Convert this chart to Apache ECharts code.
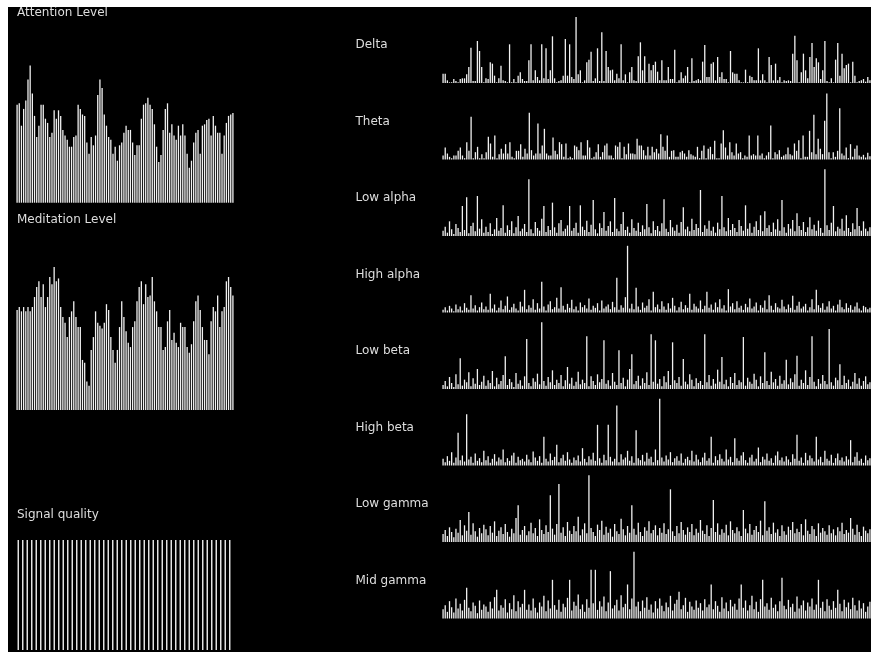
<!DOCTYPE html>
<html>
<head>
<meta charset="utf-8">
<script src="https://cdn.jsdelivr.net/npm/echarts@6/dist/echarts.min.js"></script>
<style>
  html, body { margin: 0; padding: 0; background: #fff; }
  #main { position: absolute; left: 8px; top: 7px; width: 863px; height: 645px; background: #000; }
</style>
</head>
<body>
<div id="main"></div>
<script>
// eSense levels (0-100)
var attention = [
  70, 71, 55, 67, 73, 88, 98, 78, 62, 47, 55, 70, 70, 60, 57, 47, 50, 66, 60, 66,
  62, 52, 48, 45, 40, 40, 47, 48, 70, 67, 63, 62, 43, 35, 47, 41, 48, 77, 88, 82,
  63, 55, 47, 45, 35, 40, 30, 41, 43, 50, 55, 52, 52, 43, 34, 41, 41, 60, 70, 71,
  75, 70, 67, 56, 40, 29, 34, 52, 67, 71, 50, 56, 48, 45, 55, 48, 56, 48, 35, 25,
  30, 43, 50, 52, 35, 55, 56, 59, 60, 48, 62, 55, 50, 50, 35, 48, 57, 62, 63, 64
];
var meditation = [
  70, 72, 69, 72, 69, 72, 69, 72, 79, 86, 90, 79, 88, 72, 79, 93, 88, 100, 90, 92,
  72, 65, 61, 51, 65, 69, 76, 65, 58, 58, 35, 33, 20, 17, 42, 51, 69, 61, 59, 57,
  61, 74, 70, 51, 42, 33, 42, 58, 76, 65, 55, 47, 44, 58, 62, 76, 86, 90, 74, 88,
  79, 80, 93, 76, 69, 58, 58, 42, 44, 62, 70, 49, 54, 47, 44, 61, 58, 58, 44, 40,
  46, 62, 76, 80, 70, 58, 49, 49, 39, 62, 72, 69, 80, 58, 69, 72, 90, 93, 86, 80
];
// poor signal value, 200 = max
var signalQuality = [
  200, 200, 200, 200, 200, 200, 200, 200, 200, 200, 200, 200, 200, 200, 200, 200,
  200, 200, 200, 200, 200, 200, 200, 200, 200, 200, 200, 200, 200, 200, 200, 200,
  200, 200, 200, 200, 200, 200, 200, 200, 200, 200, 200, 200, 200, 200, 200, 200
];

// band powers, relative to each band's peak (0-100)
var bandNames = ['Delta', 'Theta', 'Low alpha', 'High alpha', 'Low beta', 'High beta', 'Low gamma', 'Mid gamma'];
var delta = [
  14, 14, 4, 1, 1, 6, 3, 1, 6, 7, 7, 13, 24, 53, 3, 3, 63, 48, 24, 1,
  7, 6, 31, 29, 11, 1, 7, 26, 4, 3, 1, 58, 1, 6, 1, 11, 16, 6, 3, 3,
  34, 58, 4, 19, 9, 4, 58, 7, 52, 6, 19, 70, 7, 1, 3, 4, 11, 66, 11, 58,
  9, 6, 99, 13, 19, 1, 4, 31, 35, 47, 3, 7, 52, 3, 76, 3, 48,
  24, 19, 20, 4, 14, 7, 58, 4, 13, 1, 16, 24, 4, 3, 40, 61, 19, 40, 1, 29,
  19, 27, 32, 17, 4, 34, 4, 4, 24, 6, 6, 50, 1, 4, 16, 7, 11, 24, 1, 37,
  3, 4, 6, 4, 32, 57, 9, 9, 29, 31, 4, 39, 9, 16, 6, 6, 1, 48, 16, 14,
  14, 4, 1, 1, 20, 1, 11, 9, 4, 4, 52, 4, 13, 4, 1, 39, 27, 4, 29, 4,
  9, 1, 4, 3, 4, 3, 44, 71, 34, 1, 16, 44, 19, 7, 39, 60, 24, 37, 31, 6,
  19, 63, 3, 1, 7, 1, 35, 60, 11, 44, 22, 27, 29, 1, 32, 11, 1, 3, 4,
  6, 2, 9, 4
];
var theta = [
  6, 18, 9, 4, 2, 6, 6, 13, 18, 6, 2, 26, 13, 64, 2, 11, 19, 2, 8, 2,
  11, 34, 24, 4, 36, 2, 8, 16, 9, 23, 9, 26, 4, 2, 13, 13, 23, 4, 16, 9,
  70, 14, 6, 9, 54, 9, 21, 46, 9, 6, 6, 33, 13, 8, 26, 23, 4, 24, 2, 4,
  2, 21, 19, 14, 26, 6, 6, 29, 18, 2, 4, 11, 23, 4, 11, 21, 24, 6, 6, 2,
  21, 19, 26, 2, 19, 8, 24, 9, 9, 8, 31, 21, 21, 14,
  6, 19, 6, 19, 11, 16, 9, 38, 19, 13, 36, 4, 13, 14, 4, 4, 11, 13, 9, 4,
  14, 8, 6, 4, 19, 2, 13, 21, 2, 16, 19, 8, 28, 2, 2, 24, 44, 18, 6, 26,
  11, 6, 24, 9, 11, 2, 6, 4, 36, 6, 8, 6, 36, 6, 9, 2, 6, 11, 51, 2,
  11, 8, 14, 4, 6, 8, 18, 8, 6, 24, 13, 29, 2, 36, 4, 4, 43, 11, 67, 8,
  31, 16, 8, 58, 99, 11, 2, 11, 4, 13, 77, 9, 6, 18, 2, 23, 4, 16, 21, 6,
  4, 7, 3, 10, 5
];
var lowAlpha = [
  8, 14, 5, 22, 10, 3, 18, 12, 6, 45, 9, 58, 4, 15, 20, 7, 60, 11, 25, 5,
  14, 6, 19, 3, 10, 27, 8, 12, 46, 5, 16, 9, 22, 4, 13, 30, 7, 11, 18, 6,
  85, 10, 4, 21, 12, 8, 26, 45, 6, 15, 9, 50, 13, 5, 19, 24, 7, 11, 16, 45,
  8, 12, 20, 5, 46, 14, 9, 23, 6, 17, 54, 10, 4, 19, 12, 36, 8, 15, 22, 6,
  57, 11, 7, 18, 36, 9, 14, 5, 25, 12, 8, 20, 6, 16, 10, 48, 13, 4, 22, 9,
  15, 7, 19, 55, 11, 6, 24, 13, 8, 17, 5, 21, 43, 10, 14, 7, 26, 9, 18, 12,
  69, 6, 16, 11, 23, 8, 14, 5, 20, 10, 60, 13, 7, 27, 9, 18, 12, 6, 24, 15,
  8, 46, 11, 19, 5, 14, 22, 9, 31, 7, 37, 12, 16, 6, 20, 10, 25, 8, 54, 13,
  5, 18, 11, 24, 7, 34, 15, 9, 21, 6, 13, 28, 10, 17, 8, 23, 12, 5, 100, 16,
  9, 20, 45, 7, 14, 11, 26, 8, 31, 12, 6, 19, 10, 42, 15, 8, 22, 11, 7, 13
];
var highAlpha = [
  4, 8, 3, 10, 6, 2, 12, 5, 9, 3, 14, 7, 4, 26, 6, 11, 3, 8, 15, 5,
  9, 4, 28, 6, 12, 3, 7, 18, 5, 10, 24, 4, 8, 13, 6, 3, 16, 9, 34, 5,
  11, 7, 20, 4, 14, 6, 46, 9, 3, 12, 17, 5, 8, 22, 6, 38, 10, 4, 13, 7,
  19, 5, 9, 3, 15, 8, 11, 6, 21, 4, 10, 7, 14, 3, 18, 6, 9, 12, 5, 16,
  8, 52, 4, 11, 7, 23, 100, 6, 13, 5, 37, 9, 4, 15, 7, 10, 20, 3, 31, 8,
  12, 5, 17, 9, 4, 14, 6, 22, 10, 3, 8, 16, 5, 11, 7, 28, 4, 13, 9, 6,
  18, 5, 10, 31, 7, 12, 4, 15, 8, 20, 6, 11, 3, 35, 9, 14, 5, 17, 7, 10,
  4, 13, 8, 21, 6, 9, 15, 3, 11, 7, 18, 5, 26, 10, 4, 14, 8, 6, 19, 9,
  5, 12, 7, 25, 4, 10, 16, 6, 9, 13, 3, 8, 20, 5, 34, 11, 7, 14, 4, 9,
  17, 6, 10, 3, 12, 19, 8, 5, 14, 7, 11, 4, 9, 15, 6, 3, 10, 8, 5, 7
];
var lowBeta = [
  6, 12, 4, 18, 9, 3, 22, 7, 46, 5, 14, 10, 25, 4, 16, 8, 30, 6, 11, 20,
  5, 13, 9, 27, 4, 17, 7, 12, 21, 49, 6, 15, 10, 3, 24, 8, 13, 5, 19, 75,
  9, 4, 16, 11, 23, 7, 100, 12, 5, 18, 10, 28, 6, 14, 9, 21, 4, 13, 33, 8,
  17, 5, 11, 26, 7, 14, 9, 79, 4, 19, 12, 6, 22, 10, 15, 73, 8, 13, 5, 24,
  11, 6, 58, 9, 17, 4, 14, 30, 52, 7, 12, 20, 5, 16, 9, 25, 6, 82, 11, 73,
  8, 15, 4, 19, 10, 27, 6, 70, 13, 9, 18, 5, 45, 11, 7, 22, 14, 4, 16, 9,
  12, 6, 82, 10, 21, 5, 15, 8, 29, 11, 48, 7, 14, 4, 18, 9, 24, 6, 13, 10,
  78, 5, 17, 11, 8, 23, 14, 4, 19, 9, 55, 12, 6, 26, 10, 15, 5, 20, 8, 13,
  44, 7, 16, 10, 22, 50, 5, 14, 9, 28, 6, 18, 79, 11, 4, 15, 8, 21, 12, 7,
  90, 10, 5, 17, 13, 37, 6, 20, 9, 14, 4, 11, 24, 8, 16, 5, 12, 19, 7, 10
];
var highBeta = [
  10, 5, 14, 7, 20, 4, 12, 49, 8, 15, 6, 77, 9, 13, 4, 18, 7, 11, 5, 22,
  8, 14, 4, 10, 17, 6, 12, 9, 24, 5, 11, 7, 15, 19, 4, 13, 8, 10, 6, 16,
  9, 5, 21, 12, 7, 14, 4, 43, 10, 6, 18, 8, 13, 31, 5, 11, 16, 7, 20, 9,
  4, 12, 8, 15, 6, 26, 10, 5, 14, 9, 19, 7, 61, 11, 4, 16, 8, 61, 13, 6,
  10, 90, 5, 17, 9, 12, 22, 7, 14, 4, 53, 11, 8, 16, 6, 19, 10, 13, 5, 24,
  8, 100, 12, 6, 15, 9, 20, 5, 11, 14, 7, 18, 4, 10, 13, 8, 22, 6, 16, 9,
  5, 12, 19, 7, 11, 43, 4, 14, 8, 17, 10, 6, 24, 9, 13, 5, 41, 11, 7, 15,
  20, 8, 4, 12, 16, 6, 10, 27, 5, 13, 9, 18, 7, 11, 4, 15, 21, 8, 12, 6,
  14, 9, 5, 17, 10, 46, 7, 12, 4, 19, 8, 15, 11, 6, 43, 9, 13, 5, 22, 10,
  7, 16, 4, 11, 18, 8, 12, 6, 14, 9, 38, 5, 13, 20, 7, 10, 4, 15, 8, 11
];
var lowGamma = [
  12, 18, 9, 22, 15, 7, 20, 14, 33, 10, 25, 17, 45, 11, 28, 16, 8, 21, 13, 26,
  19, 10, 24, 14, 31, 9, 17, 22, 12, 27, 15, 8, 20, 13, 36, 55, 11, 18, 24, 10,
  16, 29, 13, 21, 9, 34, 18, 12, 25, 15, 70, 20, 11, 27, 87, 14, 22, 9, 30, 17,
  12, 24, 16, 38, 10, 19, 28, 13, 100, 21, 15, 9, 26, 18, 32, 11, 23, 14, 20, 8,
  27, 16, 12, 35, 19, 10, 24, 14, 55, 20, 11, 29, 15, 9, 22, 17, 31, 13, 18, 25,
  10, 21, 14, 28, 12, 19, 79, 16, 9, 24, 13, 30, 18, 11, 22, 15, 27, 10, 20, 14,
  33, 17, 12, 25, 9, 21, 63, 15, 28, 11, 19, 14, 26, 10, 31, 18, 13, 22, 16, 9,
  48, 20, 13, 27, 11, 18, 24, 15, 32, 10, 61, 17, 22, 12, 29, 14, 19, 9, 25, 16,
  11, 23, 18, 30, 13, 20, 15, 27, 10, 34, 17, 12, 24, 19, 9, 28, 14, 21, 16, 11,
  25, 13, 19, 10, 22, 16, 29, 12, 18, 14, 36, 20, 11, 26, 15, 9, 23, 17, 13, 19
];
var midGamma = [
  14, 20, 10, 26, 17, 9, 30, 15, 22, 12, 28, 46, 16, 11, 24, 19, 8, 27, 13, 21,
  18, 10, 25, 15, 32, 43, 12, 20, 16, 29, 9, 23, 14, 35, 11, 26, 17, 22, 43, 13,
  21, 12, 30, 16, 9, 24, 18, 34, 11, 27, 15, 58, 20, 13, 28, 10, 22, 17, 31, 58,
  12, 25, 19, 36, 14, 21, 10, 29, 16, 73, 23, 73, 13, 26, 18, 33, 11, 24, 71, 15,
  20, 28, 12, 35, 17, 22, 51, 14, 30, 100, 18, 25, 11, 27, 16, 32, 13, 21, 9, 26,
  15, 30, 19, 11, 24, 17, 34, 12, 22, 28, 40, 14, 20, 31, 10, 25, 18, 13, 27, 16,
  23, 12, 29, 17, 21, 51, 14, 26, 19, 10, 32, 15, 24, 11, 28, 18, 22, 13, 30, 51,
  16, 27, 12, 20, 34, 14, 25, 10, 29, 58, 18, 23, 13, 31, 16, 21, 11, 26, 61, 19,
  14, 28, 17, 22, 10, 33, 15, 20, 27, 12, 24, 18, 30, 13, 21, 58, 16, 25, 11, 29,
  19, 13, 26, 16, 43, 22, 11, 28, 17, 24, 14, 31, 20, 12, 27, 15, 23, 10, 18, 25
];
var bands = [delta, theta, lowAlpha, highAlpha, lowBeta, highBeta, lowGamma, midGamma];

var chart = echarts.init(document.getElementById('main'), null, { renderer: 'canvas' });

var grids = [], xAxes = [], yAxes = [], series = [], texts = [];
var textColor = '#dedede';
var barColor = '#f0f0f0';

// one small bar panel: position in chart px, band width per bar
function addPanel(values, left, top, height, pitch, max, barWidth) {
  var idx = grids.length;
  var cats = [];
  for (var i = 0; i < values.length; i++) cats.push(i);
  grids.push({ left: left, top: top, width: values.length * pitch, height: height, containLabel: false });
  xAxes.push({ type: 'category', gridIndex: idx, data: cats, show: false, boundaryGap: true });
  yAxes.push({ type: 'value', gridIndex: idx, min: 0, max: max, show: false, splitLine: { show: false } });
  series.push({
    type: 'bar', xAxisIndex: idx, yAxisIndex: idx, data: values,
    barWidth: barWidth, itemStyle: { color: barColor }, silent: true
  });
}

function addLabel(text, x, y) {
  texts.push({
    type: 'text', left: x, top: y - 5, silent: true,
    style: { text: text, fill: textColor, font: '12px "DejaVu Sans", sans-serif' }
  });
}

// left column (chart coords = page - (8,7))
addLabel('Attention Level', 9, 5);
addPanel(attention, 8, 55.7, 140, 2.18, 100, 1.3);
addLabel('Meditation Level', 9, 212);
addPanel(meditation, 8, 260, 143, 2.18, 100, 1.3);
addLabel('Signal quality', 9, 507);
addPanel(signalQuality, 8, 533, 110, 4.5, 200, 1.4);

// right column, one panel per band
for (var k = 0; k < bands.length; k++) {
  addLabel(bandNames[k], 347.5, 37.3 + 76.5 * k);
  addPanel(bands[k], 434, 9.3 + 76.5 * k, 66.7, 2.2, 100, 1.3);
}

chart.setOption({
  backgroundColor: '#000',
  animation: false,
  grid: grids,
  xAxis: xAxes,
  yAxis: yAxes,
  series: series,
  graphic: texts
});
</script>
</body>
</html>
